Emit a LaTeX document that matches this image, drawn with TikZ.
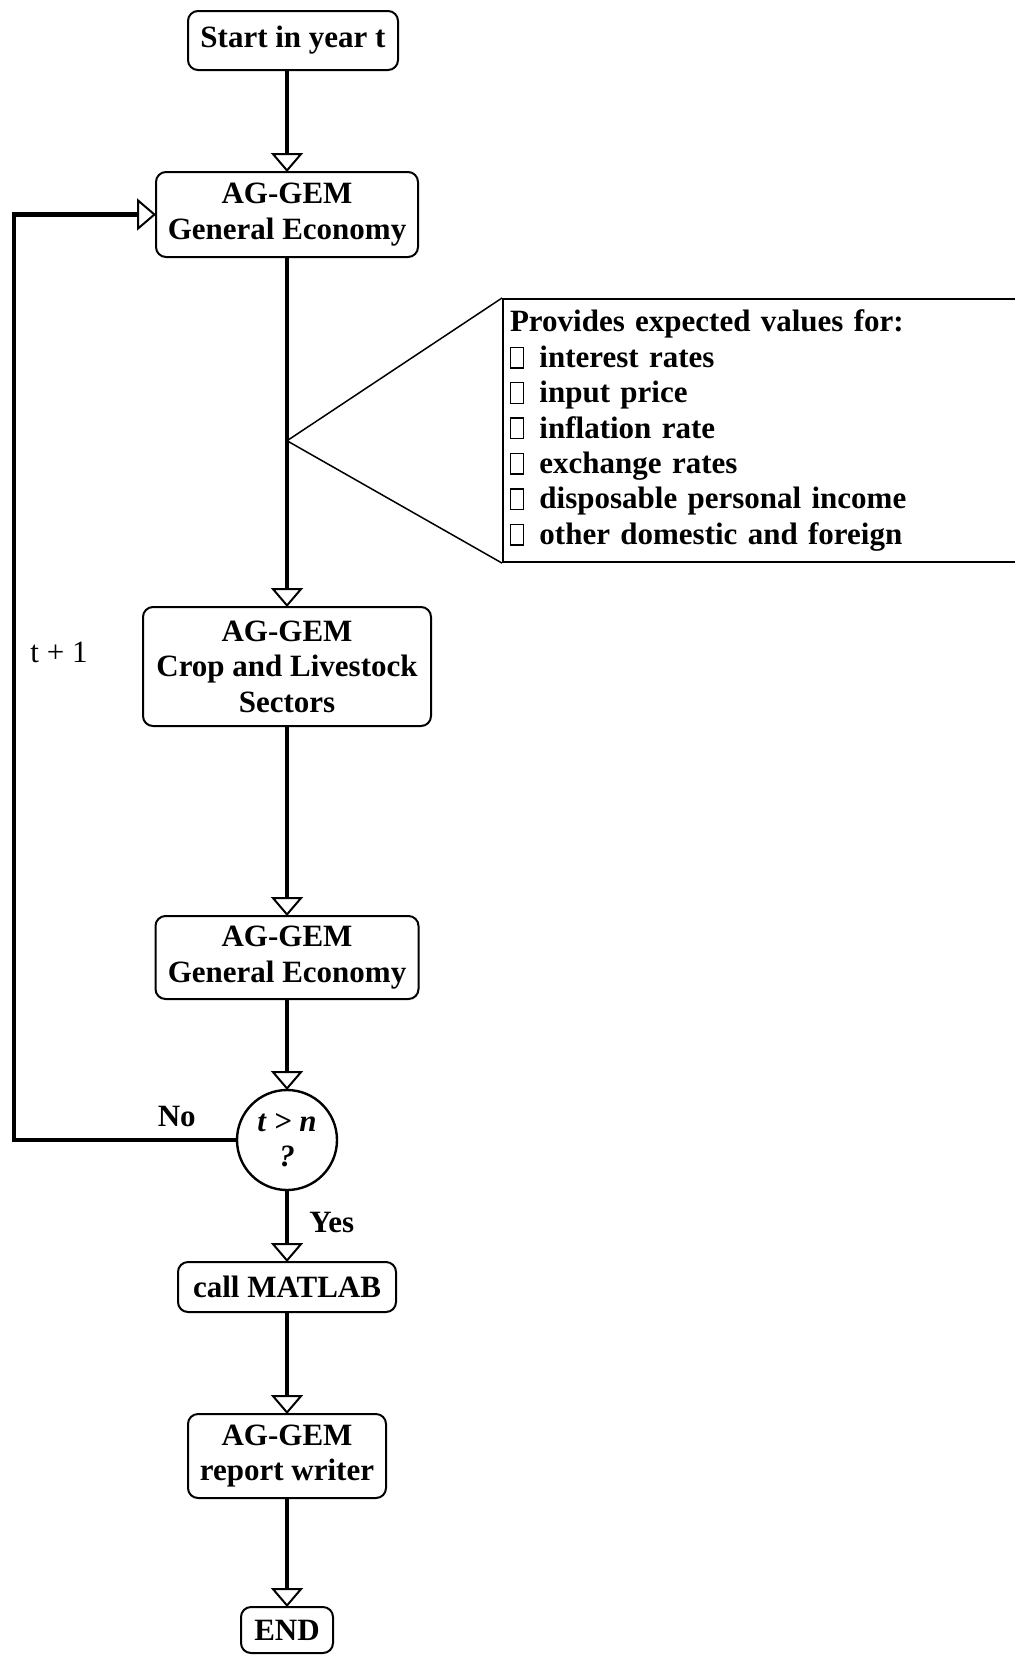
\documentclass[tikz,border=0pt]{standalone}
\usepackage{fontspec}
\setmainfont{Liberation Serif}
\usetikzlibrary{arrows.meta,positioning,calc}
\newcommand{\opensq}{{\fboxsep=0pt\fboxrule=0.7pt\fbox{\rule{0pt}{0.62em}\hspace{0.36em}}}\hspace{0.5em}}

\begin{document}
\begin{tikzpicture}[
  x=0.5pt, y=-0.5pt,
  font=\fontsize{15.5}{17.7}\selectfont\bfseries,
  >={Triangle[open, length=9.5pt, width=16pt, line width=1pt]},
  box/.style={draw, line width=1pt, rounded corners=5pt, align=center, inner sep=2pt, outer sep=0pt},
  flow/.style={->, line width=2.3pt},
  lbl/.style={inner sep=2pt},
  note/.style={draw, line width=1pt, align=left, text width=250pt, inner xsep=3.5pt, inner ysep=5.5pt}
]
\useasboundingbox (0,0) rectangle (1014,1655);
\node[box, minimum width=131pt, minimum height=42.5pt] (gem1) at (287,214.5) {AG-GEM\\General Economy};
\node[box, minimum width=105pt, minimum height=29.5pt, above=51pt of gem1, xshift=3pt] (start) {Start in year t};
\node[box, minimum width=144pt, minimum height=59.5pt, below=175pt of gem1] (crop) {AG-GEM\\Crop and Livestock\\Sectors};
\node[box, minimum width=131.5pt, minimum height=41.5pt, below=95pt of crop] (gem2) {AG-GEM\\General Economy};
\node[circle, draw, line width=1.2pt, outer sep=0pt, minimum size=50pt, inner sep=0pt, align=center, below=45.5pt of gem2] (dec) {{\itshape t > n}\\{\itshape ?}};
\node[box, minimum width=109pt, minimum height=25pt, below=36pt of dec] (matlab) {call MATLAB};
\node[box, minimum width=99pt, minimum height=42pt, below=51pt of matlab] (report) {AG-GEM\\report writer};
\node[box, minimum width=46pt, minimum height=23pt, below=54.5pt of report] (end) {END};

% expected values callout
\node[note, anchor=north west] (vals) at (502,298) {Provides expected values for:\\
  \opensq interest rates\\
  \opensq input price\\
  \opensq inflation rate\\
  \opensq exchange rates\\
  \opensq disposable personal income\\
  \opensq other domestic and foreign};
\coordinate (tip) at ($(gem1.south)!0.525!(crop.north)$);
\draw[line width=0.75pt] (vals.north west) -- (tip) -- (vals.south west);

\draw[flow] (start.south -| gem1.north) -- (gem1);
\draw[flow] (gem1) -- (crop);
\draw[flow] (crop) -- (gem2);
\draw[flow] (gem2) -- (dec);
\draw[flow] (dec) -- node[lbl, right=8pt, pos=0.45] (yes) {Yes} (matlab);
\draw[flow] (matlab) -- (report);
\draw[flow] (report) -- (end);

% loop back to next year
\coordinate (back) at (14,0);
\draw[flow] (dec.west) -- node[lbl, above=3.5pt, pos=0.27] (no) {No} (dec.west -| back) |- (gem1.west);
\node[lbl, font=\fontsize{15.5}{17.7}\selectfont] (tone) at (59,652) {t + 1};
\end{tikzpicture}
\end{document}
